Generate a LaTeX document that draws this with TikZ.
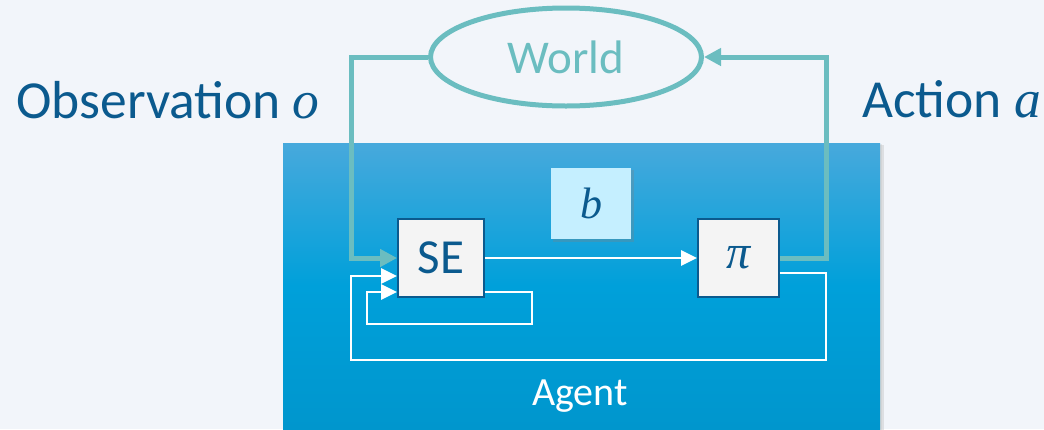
\documentclass[tikz,border=0pt]{standalone}
\usepackage{fontspec}
\setmainfont{Carlito}
\newfontfamily\mathfont{Liberation Serif}
\usetikzlibrary{arrows.meta,shapes.geometric,calc}
\definecolor{bg}{HTML}{F2F5FA}
\definecolor{dblue}{HTML}{0B5A8E}
\definecolor{teal2}{HTML}{6BBDC0}
\definecolor{agtop}{HTML}{47A9DC}
\definecolor{agmid}{HTML}{00A0DA}
\definecolor{agbot}{HTML}{0096CD}
\definecolor{bfill}{HTML}{C5EFFF}
\definecolor{boxfill}{HTML}{F4F4F4}
\tikzset{
  procbox/.style={draw=dblue, line width=1.8pt, fill=boxfill, minimum width=86pt, minimum height=78pt, inner sep=0pt, text=dblue},
  tealline/.style={draw=teal2, line width=5pt},
  whiteline/.style={draw=white, line width=2.6pt},
  tealtip/.style={-{Triangle[length=17pt,width=17pt]}},
  whitetip/.style={-{Triangle[length=16pt,width=15pt]}},
  biglabel/.style={text=dblue, font=\fontsize{53.5}{58}\selectfont, inner sep=0pt, anchor=base west},
}
\begin{document}
\begin{tikzpicture}[x=1pt,y=-1pt]
\useasboundingbox (0,0) rectangle (1044,429);
\fill[bg] (0,0) rectangle (1044,429);
% agent box shadow and box
\fill[black!25, opacity=0.4] (285,145) rectangle (884,432);
\fill[black!25, opacity=0.3] (284,144) rectangle (882,431);
\shade[top color=agtop, bottom color=agbot, middle color=agmid] (283,143) rectangle (880,429);
\node[inner sep=0pt, minimum width=597pt, minimum height=286pt] (agent) at (581.5,286) {};
\node[text=white, font=\fontsize{40}{46}\selectfont, inner sep=0pt, anchor=base] (agentlbl) at (580,405) {Agent};
% b box
\fill[black!50, opacity=0.3] (553,170) rectangle (634,242);
\node[fill=bfill, minimum width=80pt, minimum height=71pt, inner sep=0pt, text=dblue, font=\fontsize{44}{48}\selectfont\mathfont\itshape] (b) at (591,203.5) {b};
% world
\node[ellipse, draw=teal2, line width=5pt, fill=bg, minimum width=271pt, minimum height=98pt, inner sep=0pt, text=teal2, font=\fontsize{47}{52}\selectfont] (world) at (566,57) {World};
% process boxes
\node[procbox, font=\fontsize{49}{52}\selectfont] (se) at (441,258) {SE};
\node[procbox, minimum width=81pt, font=\fontsize{48}{50}\selectfont\mathfont\itshape] (pi) at (738.5,258) {π};
% labels
\node[biglabel] (obs) at (16,118) {Observation {\mathfont\itshape o}};
\node[biglabel] (act) at (862,117) {Action {\mathfont\itshape a}};
% coordinates
\coordinate (oc1) at (351,57);
\coordinate (ac1) at (826,57);
\coordinate (in1) at ($(se.east)+(0,34)$);
\coordinate (in2) at (532,292);
\coordinate (in3) at (367,324);
\coordinate (in4) at ($(se.west)+(0,34)$);
\coordinate (ou1) at ($(pi.east)+(0,15)$);
\coordinate (ou2) at (826,360);
\coordinate (ou3) at (351,360);
\coordinate (ou4) at ($(se.west)+(0,18)$);
% connectors
\draw[whiteline, whitetip] (se.east) -- (pi.west);
\draw[whiteline, whitetip] (in1) -- (in2) |- (in3) |- (in4);
\draw[whiteline, whitetip] (ou1) -| (ou2) -- (ou3) |- (ou4);
\draw[tealline, tealtip] (world.west) -- (oc1) |- (se.west);
\draw[tealline, tealtip] (pi.east) -| (ac1) -- (world.east);
\end{tikzpicture}
\end{document}
